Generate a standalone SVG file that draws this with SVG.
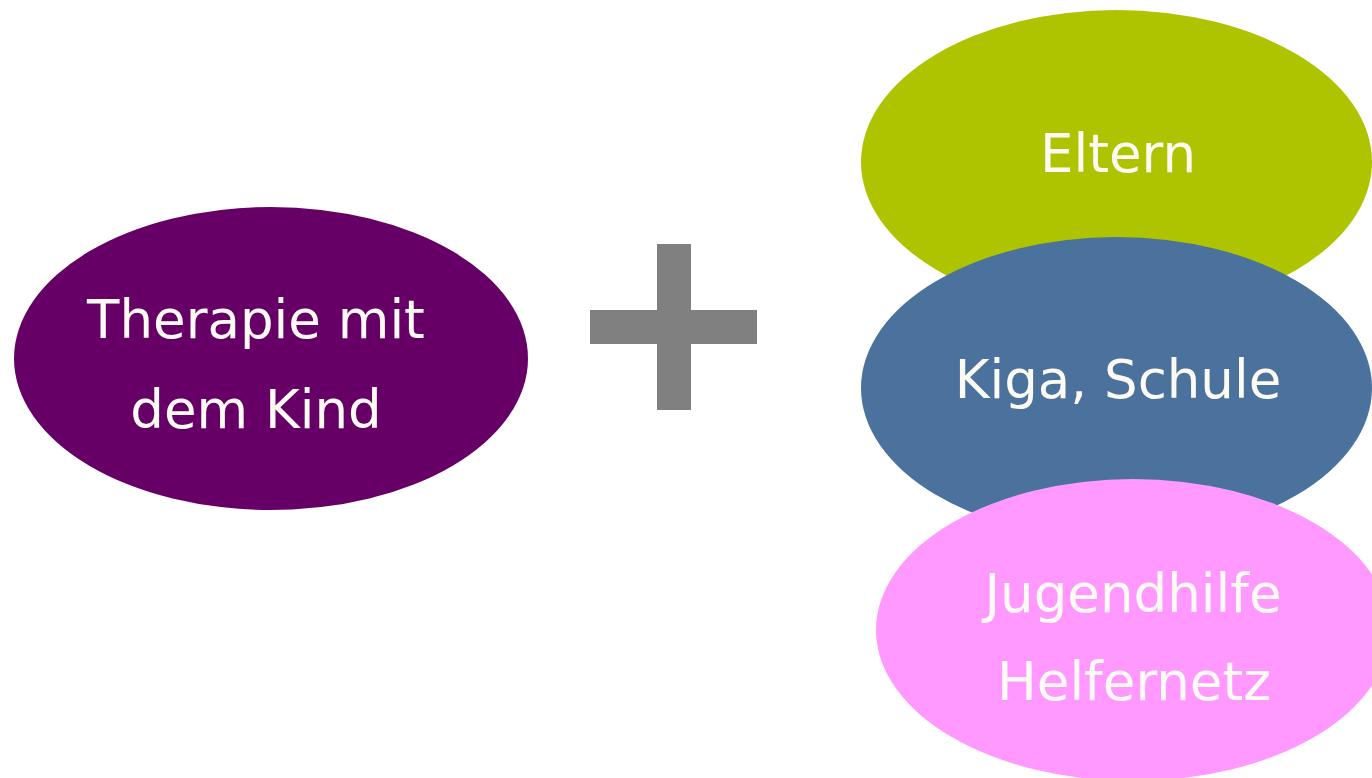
<svg xmlns="http://www.w3.org/2000/svg" width="1372" height="778" viewBox="0 0 1372 778">
<style>
text{font-family:"DejaVu Sans","Verdana",sans-serif;font-size:53px;fill:#FCFAF2;text-anchor:middle}
</style>
<rect width="1372" height="778" fill="#FFFFFF"/>
<g id="node-therapie">
<ellipse cx="271" cy="358.5" rx="257" ry="151.5" fill="#660066"/>
<text x="256" y="338">Therapie mit</text>
<text x="256" y="428">dem Kind</text>
</g>
<g id="plus">
<rect x="657" y="244" width="34" height="166" fill="#808080"/>
<rect x="590" y="310" width="167" height="34" fill="#808080"/>
</g>
<g id="node-eltern">
<ellipse cx="1116.5" cy="162" rx="255.5" ry="152" fill="#AEC400"/>
<text x="1118" y="172">Eltern</text>
</g>
<g id="node-kiga">
<ellipse cx="1116.5" cy="388" rx="255.5" ry="151" fill="#4B719D"/>
<text x="1118" y="398">Kiga, Schule</text>
</g>
<g id="node-jugendhilfe">
<ellipse cx="1133" cy="630" rx="257" ry="151" fill="#FF99FF"/>
<text x="1133" y="612">Jugendhilfe</text>
<text x="1134" y="700">Helfernetz</text>
</g>
<g id="connectors"></g>
</svg>
